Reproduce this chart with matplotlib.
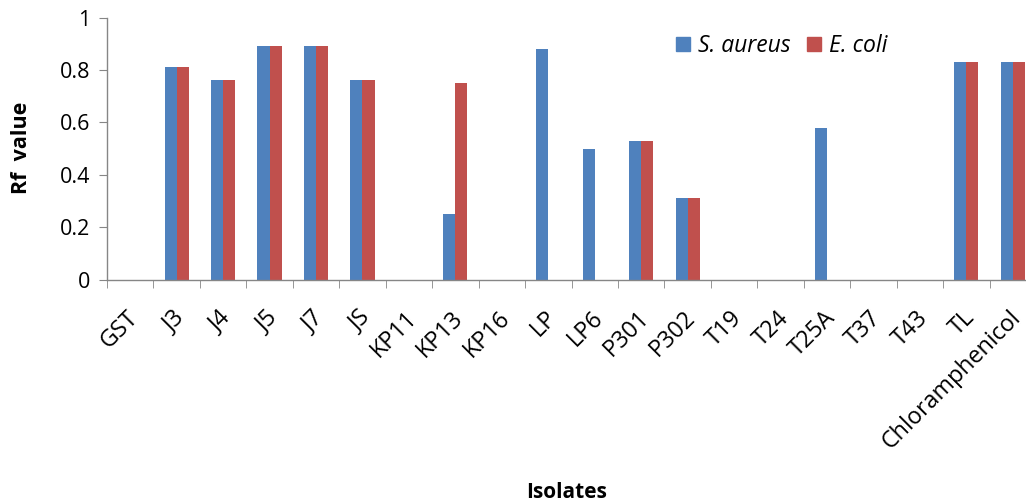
import matplotlib
matplotlib.use("Agg")
import matplotlib.pyplot as plt
import matplotlib.transforms as mtransforms
import numpy as np
from matplotlib.lines import Line2D

categories = ["GST", "J3", "J4", "J5", "J7", "JS", "KP11", "KP13", "KP16", "LP",
              "LP6", "P301", "P302", "T19", "T24", "T25A", "T37", "T43", "TL",
              "Chloramphenicol"]
s_aureus = [0, 0.81, 0.76, 0.89, 0.89, 0.76, 0, 0.25, 0, 0.88,
            0.50, 0.53, 0.31, 0, 0, 0.58, 0, 0, 0.83, 0.83]
e_coli = [0, 0.81, 0.76, 0.89, 0.89, 0.76, 0, 0.75, 0, 0,
          0, 0.53, 0.31, 0, 0, 0, 0, 0, 0.83, 0.83]
yticks = [0, 0.2, 0.4, 0.6, 0.8, 1]
ytick_labels = ["0", "0.2", "0.4", "0.6", "0.8", "1"]

plt.rcParams['font.family'] = ['Open Sans', 'DejaVu Sans']

fig = plt.figure(figsize=(10.26, 5.03), dpi=100)
ax = fig.add_axes([107/1026, 1-279.5/503, (1036-107)/1026, (279.5-17.5)/503])

x = np.arange(len(categories))
w = 0.26
blue = "#4F81BD"
red = "#C0504D"
ax.bar(x - w/2, s_aureus, w, color=blue)
ax.bar(x + w/2, e_coli, w, color=red)

ax.set_xlim(-0.5, len(categories) - 0.5)
ax.set_ylim(0, 1)
ax.set_yticks(yticks)
ax.set_yticklabels(ytick_labels, fontsize=15.5)
ax.set_xticks(x)
ax.set_xticklabels(categories, rotation=45, ha='right', rotation_mode='anchor', fontsize=16.8)
ax.set_xticks(np.arange(-0.5, len(categories), 1), minor=True)
ax.tick_params(axis='x', which='major', length=0, pad=19)
ax.tick_params(axis='x', which='minor', length=6, color="#868686", direction='out')
ax.tick_params(axis='y', length=6, color="#868686", direction='out', pad=6)
offset = mtransforms.ScaledTranslation(-4/100, 0, fig.dpi_scale_trans)
for lbl in ax.get_xticklabels():
    lbl.set_transform(lbl.get_transform() + offset)

for s in ['top', 'right']:
    ax.spines[s].set_visible(False)
for s in ['left', 'bottom']:
    ax.spines[s].set_color("#868686")
    ax.spines[s].set_linewidth(1)

fig.text(22/1026, 1-148/503, "Rf  value", fontsize=15.5, fontweight='bold', rotation=90,
         ha='center', va='center')
fig.text(567/1026, 1-493/503, "Isolates", fontsize=15, fontweight='bold', ha='center', va='center')

handles = [Line2D([], [], marker='s', linestyle='None', markersize=10, color=blue),
           Line2D([], [], marker='s', linestyle='None', markersize=10, color=red)]
leg = ax.legend(handles, ["S. aureus", "E. coli"], loc='upper left',
                bbox_to_anchor=(654/1026, 1-13/503), bbox_transform=fig.transFigure,
                ncol=2, frameon=False, prop={'style': 'italic', 'size': 16.5},
                handlelength=0.7, handletextpad=0.3, columnspacing=0.7)

fig.savefig("out.png", dpi=100)
